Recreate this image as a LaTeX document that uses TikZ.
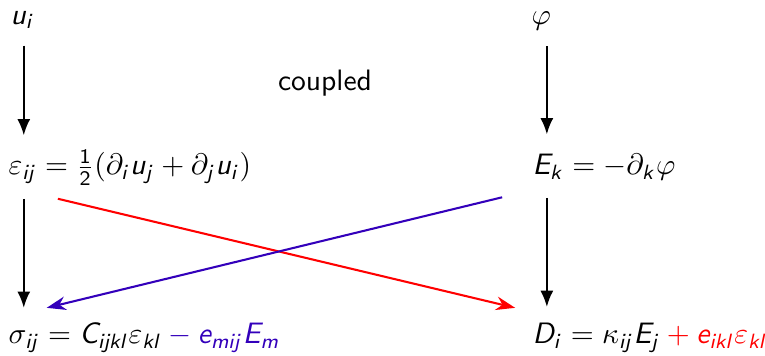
\documentclass[tikz,border=0pt]{standalone}
\usepackage{amsmath}
\usepackage{xcolor}
\usepackage{tikz}
\usetikzlibrary{arrows.meta,positioning}
% sans serif latin letters in math, greek stays italic
\DeclareSymbolFont{sfoperators}{OT1}{cmss}{m}{n}
\DeclareSymbolFont{sfletters}{OT1}{cmss}{m}{sl}
\DeclareMathSymbol{u}{\mathalpha}{sfletters}{`u}
\DeclareMathSymbol{i}{\mathalpha}{sfletters}{`i}
\DeclareMathSymbol{j}{\mathalpha}{sfletters}{`j}
\DeclareMathSymbol{k}{\mathalpha}{sfletters}{`k}
\DeclareMathSymbol{l}{\mathalpha}{sfletters}{`l}
\DeclareMathSymbol{e}{\mathalpha}{sfletters}{`e}
\DeclareMathSymbol{m}{\mathalpha}{sfletters}{`m}
\DeclareMathSymbol{C}{\mathalpha}{sfletters}{`C}
\DeclareMathSymbol{D}{\mathalpha}{sfletters}{`D}
\DeclareMathSymbol{E}{\mathalpha}{sfletters}{`E}
\DeclareMathSymbol{1}{\mathalpha}{sfoperators}{`1}
\DeclareMathSymbol{2}{\mathalpha}{sfoperators}{`2}
\definecolor{mechred}{HTML}{FF0000}
\definecolor{elecblue}{HTML}{3300BB}

\begin{document}
\begin{tikzpicture}[
  x=0.3386pt,y=0.3386pt,
  eq/.style={anchor=base west,inner sep=0pt},
  flow/.style={-{Latex[length=5.5pt,width=4.4pt]},draw=black,line width=0.7pt},
  couple/.style={-{Stealth[length=6.5pt,width=4.6pt]},line width=0.7pt}
]
  \useasboundingbox (0,0) rectangle (765,356);

  \node[eq] (ui) at (10,332) {$u_i$};
  \node[eq] (eps) at (8,181) {$\varepsilon_{ij} = \frac{1}{2}(\partial_i u_j + \partial_j u_i)$};
  \node[eq] (sig) at (8,12) {$\sigma_{ij} = C_{ijkl}\varepsilon_{kl} \color{elecblue} - e_{mij}E_m$};

  \node[eq] (phi) at (531,331) {$\varphi$};
  \node[eq] (Ek) at (532,181) {$E_k = -\partial_k\varphi$};
  \node[eq] (Di) at (532,12) {$D_i = \kappa_{ij}E_j \color{mechred} + e_{ikl}\varepsilon_{kl}$};

  \node[anchor=base,inner sep=0pt,font=\sffamily] (coupled) at (325,266) {coupled};

  \draw[flow,shorten <=5.6pt,shorten >=4.7pt] ([xshift=0.4pt]ui.south) -- ([xshift=0.4pt]ui.south |- eps.north);
  \draw[flow,shorten <=4.4pt,shorten >=5.1pt] ([xshift=0.4pt]ui.south |- eps.south) -- ([xshift=0.4pt]ui.south |- sig.north);
  \draw[flow,shorten <=5.1pt,shorten >=6.6pt] ([xshift=1.9pt]phi.south) -- ([xshift=1.9pt]phi.south |- Ek.north);
  \draw[flow,shorten <=5.6pt,shorten >=5.4pt] ([xshift=1.9pt]phi.south |- Ek.south) -- ([xshift=1.9pt]phi.south |- Di.north);

  \draw[couple,mechred] ([xshift=16.9pt,yshift=-4.4pt]eps.south west) -- ([xshift=-5.7pt,yshift=5.1pt]Di.north west);
  \draw[couple,elecblue] ([xshift=-10.1pt,yshift=-5.4pt]Ek.south west) -- ([xshift=13.1pt,yshift=5.1pt]sig.north west);
\end{tikzpicture}
\end{document}
